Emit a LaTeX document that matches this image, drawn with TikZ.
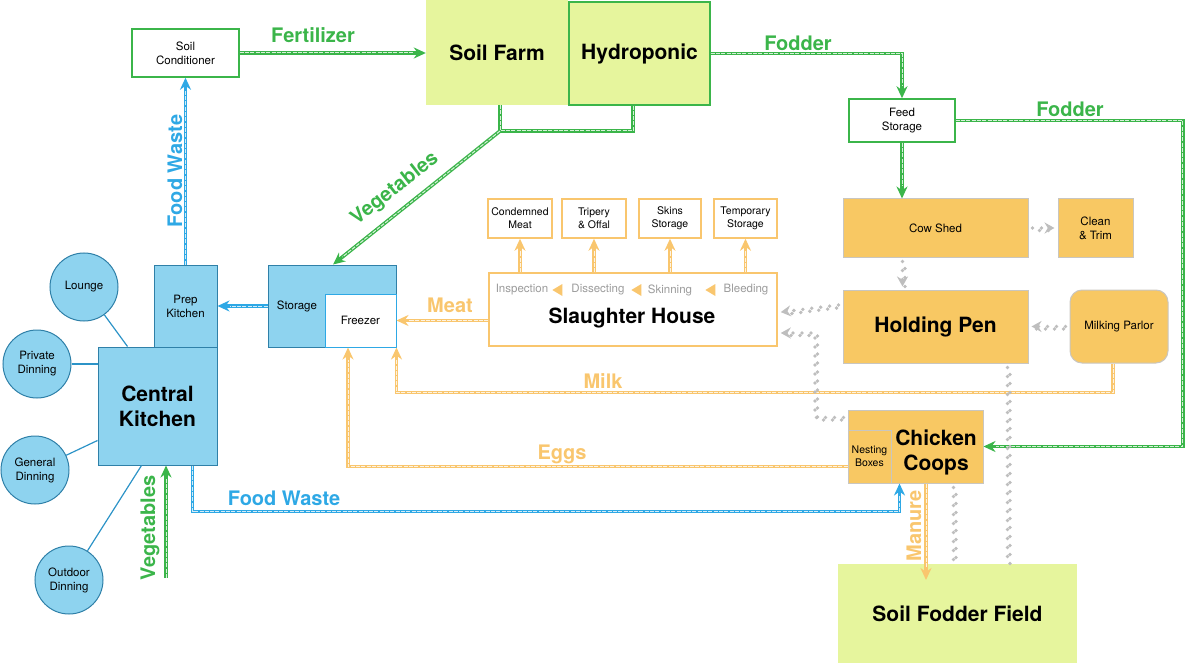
\documentclass[tikz,border=0pt]{standalone}
\usepackage{fontspec}
\setmainfont{TeX Gyre Heros}
\usepackage{tikz}
\usetikzlibrary{arrows.meta, shapes.geometric}

\definecolor{fieldgreen}{HTML}{E6F59D}
\definecolor{leafgreen}{HTML}{3BB54A}
\definecolor{kitchenblue}{HTML}{8ED3EF}
\definecolor{kitchenedge}{HTML}{2F80A8}
\definecolor{linkblue}{HTML}{2C93C7}
\definecolor{wasteblue}{HTML}{2EA8E5}
\definecolor{penorange}{HTML}{F8C863}
\definecolor{pengray}{HTML}{C9C6C0}
\definecolor{yolk}{HTML}{F9C66E}
\definecolor{trackgray}{HTML}{BEBEBE}
\definecolor{stagegray}{HTML}{9C9C9C}

\tikzset{
    bigtext/.style={font=\bfseries\fontsize{21}{25}\selectfont},
    smalltext/.style={font=\fontsize{11.5}{14}\selectfont},
    tinytext/.style={font=\fontsize{10.5}{13}\selectfont},
    flowlabel/.style={font=\bfseries\fontsize{20}{24}\selectfont, text=#1, inner sep=1pt},
    field/.style={fill=fieldgreen, inner sep=0pt, align=center, bigtext},
    farmbox/.style={draw=leafgreen, line width=1.5pt, fill=white, inner sep=0pt, align=center, smalltext},
    pen/.style={fill=penorange, draw=pengray, line width=1pt, inner sep=0pt, align=center},
    kitchen/.style={fill=kitchenblue, draw=kitchenedge, line width=1pt, inner sep=0pt, align=center},
    room/.style={circle, fill=kitchenblue, draw=kitchenedge, line width=1pt, minimum size=68pt, inner sep=0pt, align=center, smalltext},
    unit/.style={draw=yolk, line width=1.5pt, fill=white, inner sep=0pt, align=center, tinytext},
    flow/.style={draw=#1, line width=3.6pt, postaction={draw=white, draw opacity=0.8, line width=1pt, dash pattern=on 4pt off 1.3pt}},
    flowarrow/.style={draw=#1, line width=3.6pt, ->, postaction={draw=white, draw opacity=0.8, line width=1pt, dash pattern=on 4pt off 1.3pt, -, shorten >=12pt}},
    tracks/.style={draw=trackgray, line width=3.8pt, line cap=round, dash pattern=on 0pt off 9pt, shorten <=4pt,
        postaction={draw=trackgray, -, dash phase=4.5pt, transform canvas={shift={(2.5pt,-2.5pt)}}}},
    trackarrow/.style={tracks, -{Stealth[length=10pt, width=11pt]}, shorten >=3pt},
    stage/.style={text=stagegray, smalltext, inner sep=1pt},
    stagearrow/.style={isosceles triangle, shape border rotate=180, isosceles triangle stretches, fill=yolk, minimum width=12pt, minimum height=10pt, inner sep=0pt},
}

\begin{document}
\begin{tikzpicture}[x=1pt, y=-1pt, >={Stealth[length=12pt, width=11pt]}]
        \useasboundingbox (0,0) rectangle (1186,663);

        \node (soilfarm) at (497,52.5) [field, minimum width=142pt, minimum height=105pt] {Soil Farm};
        \node (hydro) at (639.5,53.5) [field, draw=leafgreen, line width=1.2pt, minimum width=141pt, minimum height=103pt] {Hydroponic};
        \node (cond) at (185.5,53) [farmbox, minimum width=107pt, minimum height=48pt] {Soil\\Conditioner};
        \node (feed) at (902,120.5) [farmbox, minimum width=106pt, minimum height=43pt] {Feed\\Storage};

        \node (cowshed) at (935.5,228) [pen, smalltext, minimum width=185pt, minimum height=58pt] {Cow Shed};
        \node (clean) at (1095.5,228) [pen, smalltext, minimum width=75pt, minimum height=58pt] {Clean\\\& Trim};
        \node (holding) at (935.5,326.5) [pen, bigtext, minimum width=185pt, minimum height=73pt] {Holding Pen};
        \node (parlor) at (1119,326.5) [pen, smalltext, rounded corners=12pt, minimum width=98pt, minimum height=73pt] {Milking Parlor};
        \node (coops) at (915.5,446.5) [pen, minimum width=135pt, minimum height=73pt] {};
        \node (nesting) at (869.5,456.5) [pen, tinytext, minimum width=43pt, minimum height=53pt] {Nesting\\Boxes};
        \node (coopstext) at (936,452) [bigtext, align=center, inner sep=0pt] {Chicken\\Coops};
        \node (field) at (957.5,613.5) [field, minimum width=239pt, minimum height=99pt] {Soil Fodder Field};

        \node (slaughter) at (633,309.5) [draw=yolk, line width=1.5pt, fill=white, minimum width=288pt, minimum height=73pt] {};
        \node (slaughtertext) at (632,318) [bigtext, inner sep=0pt] {Slaughter House};
        \node (inspection) at (522,290) [stage] {Inspection};
        \node (stepone) at (559,290) [stagearrow] {};
        \node (dissecting) at (598,290) [stage] {Dissecting};
        \node (steptwo) at (638,290) [stagearrow] {};
        \node (skinning) at (670,290) [stage] {Skinning};
        \node (stepthree) at (712,290) [stagearrow] {};
        \node (bleeding) at (746,290) [stage] {Bleeding};
        \node (condemned) at (520,218.5) [unit, minimum width=64pt, minimum height=39pt] {Condemned\\Meat};
        \node (tripery) at (594,218.5) [unit, minimum width=64pt, minimum height=39pt] {Tripery\\\& Offal};
        \node (skins) at (670,218.5) [unit, minimum width=62pt, minimum height=39pt] {Skins\\Storage};
        \node (temporary) at (745.5,218.5) [unit, minimum width=63pt, minimum height=39pt] {Temporary\\Storage};

        \node (storage) at (332,306) [kitchen, minimum width=128pt, minimum height=82pt] {};
        \node (storagetext) at (297,306) [smalltext, inner sep=0pt] {Storage};
        \node (freezer) at (360.5,320.5) [kitchen, fill=white, draw=wasteblue, smalltext, minimum width=71pt, minimum height=53pt] {Freezer};
        \node (prep) at (185.5,306) [kitchen, smalltext, minimum width=63pt, minimum height=82pt] {Prep\\Kitchen};
        \node (central) at (157.5,406) [kitchen, bigtext, minimum width=119pt, minimum height=118pt] {Central\\Kitchen};

        \node (lounge) at (84,287) [room] {Lounge};
        \node (private) at (37,364) [room] {Private\\Dinning};
        \node (general) at (35,470) [room] {General\\Dinning};
        \node (outdoor) at (69,580) [room] {Outdoor\\Dinning};

        \draw[linkblue, line width=1.2pt] (lounge) -- ([xshift=30pt]central.north west);
        \draw[linkblue, line width=1.2pt] (private) -- (private -| central.west);
        \draw[linkblue, line width=1.2pt] (general) -- ([yshift=25pt]central.south west);
        \draw[linkblue, line width=1.2pt] (outdoor) -- ([xshift=44pt]central.south west);

        \draw[flowarrow=leafgreen] (cond.east) -- (cond.east -| soilfarm.west);
        \draw[flowarrow=leafgreen] (hydro.east) -| (feed.north);
        \draw[flowarrow=leafgreen] (feed.east) -- ++(227,0) |- (coops.east);
        \draw[flowarrow=leafgreen] (feed.south) -- (feed.south |- cowshed.north);
        \coordinate (vegjoin) at (500,131);
        \draw[flow=leafgreen] (soilfarm.south -| vegjoin) -- (vegjoin) -| ([xshift=-6.5pt]hydro.south);
        \draw[flowarrow=leafgreen] (vegjoin) -- ([xshift=1pt]storage.north);
        \coordinate (vegsource) at (166,578);
        \draw[flowarrow=leafgreen] (vegsource) -- (vegsource |- central.south);

        \draw[flowarrow=wasteblue] (prep.north) -- (cond.south);
        \draw[flowarrow=wasteblue] (storage.west) -- (storage.west -| prep.east);
        \draw[flowarrow=wasteblue] ([xshift=35pt]central.south) -- ++(0,46) -| ([xshift=-16pt]coops.south);

        \draw[flowarrow=yolk] (slaughter.west |- freezer.east) -- (freezer.east);
        \draw[flowarrow=yolk] ([xshift=-6pt]parlor.south) -- ++(0,29) -| (freezer.south east);
        \draw[flowarrow=yolk] ([yshift=-10pt]nesting.west) -| ([xshift=-12.5pt]freezer.south);
        \coordinate (manureend) at (926,580);
        \draw[flowarrow=yolk] (coops.south -| manureend) -- (manureend);
        \draw[flowarrow=yolk] (slaughter.north -| condemned.south) -- (condemned.south);
        \draw[flowarrow=yolk] (slaughter.north -| tripery.south) -- (tripery.south);
        \draw[flowarrow=yolk] (slaughter.north -| skins.south) -- (skins.south);
        \draw[flowarrow=yolk] (slaughter.north -| temporary.south) -- (temporary.south);

        \draw[trackarrow] (cowshed.east) -- (clean.west);
        \draw[trackarrow] ([xshift=-33pt]cowshed.south) -- ([xshift=-33pt]holding.north);
        \draw[trackarrow] (parlor.west) -- (holding.east);
        \draw[trackarrow] ([yshift=22pt]holding.west) -- ([yshift=-3pt]slaughter.east);
        \coordinate (trackbend) at (815,333);
        \draw[trackarrow] ([yshift=-8pt]coops.north west) -| (trackbend) -- (slaughter.east |- trackbend);
        \draw[tracks] ([xshift=38pt]coops.south) -- ([xshift=38pt]coops.south |- field.north);
        \draw[tracks] ([xshift=72pt]holding.south) -- ([xshift=72pt]holding.south |- field.north);

        \node (fertlabel) at (313,35) [flowlabel=leafgreen] {Fertilizer};
        \node (fodderlabel) at (798,43) [flowlabel=leafgreen] {Fodder};
        \node (fodderlabeltwo) at (1070,109) [flowlabel=leafgreen] {Fodder};
        \node (veglabel) at (395,189) [flowlabel=leafgreen, rotate=38] {Vegetables};
        \node (veglabeltwo) at (150,528) [flowlabel=leafgreen, rotate=90] {Vegetables};
        \node (wastelabel) at (175,171) [flowlabel=wasteblue, rotate=90] {Food Waste};
        \node (wastelabeltwo) at (284,498) [flowlabel=wasteblue] {Food Waste};
        \node (meatlabel) at (450,305) [flowlabel=yolk] {Meat};
        \node (milklabel) at (603,381) [flowlabel=yolk] {Milk};
        \node (eggslabel) at (562,454) [flowlabel=yolk] {Eggs};
        \node (manurelabel) at (914,526) [flowlabel=yolk, rotate=90] {Manure};
\end{tikzpicture}
\end{document}
